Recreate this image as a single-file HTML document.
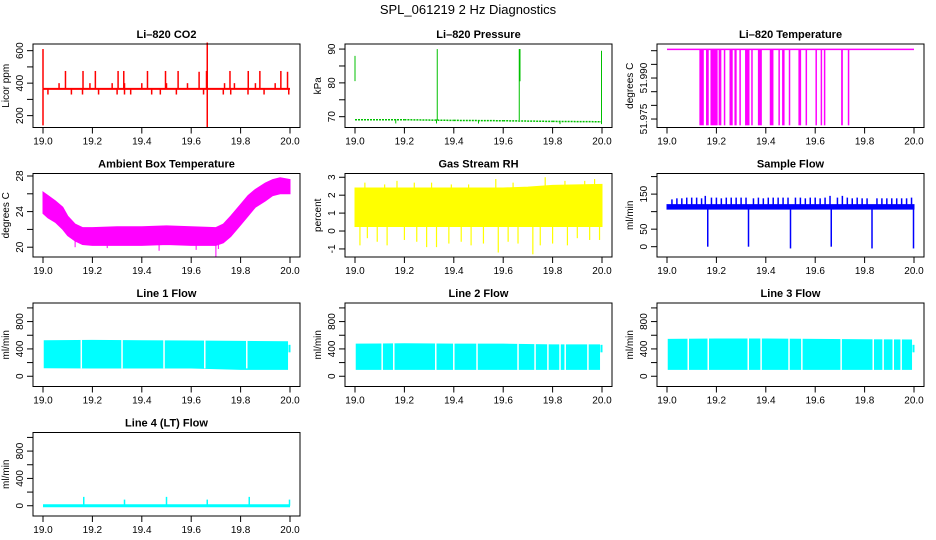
<!DOCTYPE html>
<html><head><meta charset="utf-8"><style>
html,body{margin:0;padding:0;background:#fff;}
svg{display:block;font-family:"Liberation Sans",sans-serif;}
</style></head><body>
<svg id="fig" width="936" height="540" viewBox="0 0 936 540">
<text x="468" y="14" text-anchor="middle" font-size="13">SPL_061219  2 Hz Diagnostics</text>
</svg>
<script>
// ---- data ----
const xTicks = [19.0, 19.2, 19.4, 19.6, 19.8, 20.0];
const xTickLabels = ["19.0","19.2","19.4","19.6","19.8","20.0"];

const co2Base = 365;
const co2SpikeT = [19.0,19.0,19.091,19.162,19.212,19.304,19.327,19.423,19.496,19.547,19.632,19.662,19.757,19.831,19.878,19.963,19.99,19.665,19.665,19.065,19.19,19.28,19.33,19.40,19.50,19.585,19.735,19.775,19.86,19.94,19.02,19.115,19.16,19.225,19.30,19.33,19.355,19.44,19.475,19.54,19.65,19.73,19.76,19.83,19.895,19.995];
const co2SpikeV = [610,140,475,475,475,475,475,475,475,475,470,475,475,475,475,475,470,650,130,400,400,400,400,400,400,400,400,400,400,400,330,330,330,330,330,330,330,330,330,330,330,330,330,330,330,330];

const presT = [19.0,19.2,19.4,19.6,19.8,20.0];
const presV = [69.1,69.1,68.9,68.8,68.6,68.5];
const presSpikeT = [19.0,19.333,19.665,19.667,19.668,19.998,19.165,19.33,19.5,19.83,19.998];
const presSpikeLo = [80.5,69,69,80.5,80.5,68.5,68.0,68.0,68.0,67.8,67.8];
const presSpikeHi = [88,90,90,90,90,89.5,69.2,69.2,69.0,68.8,68.8];

const ltTop = 52.0005, ltLow = 51.9727;
const ltDropStart = [19.131,19.158,19.176,19.209,19.230,19.253,19.273,19.293,19.316,19.341,19.368,19.416,19.451,19.466,19.493,19.532,19.561,19.601,19.622,19.635,19.705,19.732];
const ltDropEnd   = [19.149,19.169,19.205,19.220,19.232,19.266,19.282,19.295,19.334,19.347,19.384,19.431,19.453,19.476,19.495,19.543,19.563,19.603,19.624,19.637,19.712,19.734];

const ambT  = [19.0,19.02,19.05,19.08,19.1,19.13,19.16,19.2,19.3,19.4,19.5,19.6,19.7,19.73,19.76,19.8,19.83,19.86,19.9,19.93,19.96,20.0];
const ambLo = [23.8,23.3,22.8,22.0,21.3,20.7,20.3,20.2,20.2,20.2,20.3,20.2,20.2,20.5,21.2,22.5,23.5,24.5,25.2,25.8,26.0,26.0];
const ambHi = [26.2,25.8,25.2,24.5,23.5,22.6,22.2,22.2,22.3,22.3,22.4,22.3,22.2,22.6,23.5,24.8,25.8,26.5,27.2,27.6,27.8,27.6];
const ambDipT = [19.47,19.62,19.70,19.71,19.26,19.13];
const ambDipV = [19.6,19.7,18.9,19.8,19.9,20.0];

const rhT  = [19.0,19.2,19.4,19.6,19.7,19.8,20.0];
const rhLo = [0.25,0.25,0.25,0.25,0.25,0.25,0.25];
const rhHi = [2.4,2.4,2.4,2.4,2.45,2.55,2.6];
const rhSpikeT = [19.02,19.05,19.09,19.13,19.2,19.25,19.29,19.33,19.38,19.43,19.47,19.52,19.58,19.62,19.66,19.72,19.75,19.8,19.86,19.9,19.95,19.99,19.04,19.12,19.17,19.24,19.31,19.39,19.46,19.57,19.64,19.77,19.85,19.93,19.97];
const rhSpikeV = [-0.8,-0.4,-0.6,-0.8,-0.5,-0.6,-0.9,-0.9,-0.7,-0.6,-0.8,-0.7,-1.2,-0.6,-0.7,-1.3,-0.8,-0.7,-0.8,-0.4,-0.5,-0.5,2.7,2.6,2.8,2.7,2.7,2.6,2.6,2.9,2.7,3.0,2.8,2.8,2.9];

const sfT  = [19.0,20.0];
const sfLo = [107,107];
const sfHi = [120,120];
const sfSpikeT = [19.02,19.04,19.06,19.08,19.10,19.12,19.14,19.155,19.18,19.20,19.22,19.24,19.26,19.28,19.30,19.32,19.35,19.37,19.39,19.41,19.43,19.45,19.47,19.49,19.52,19.54,19.56,19.58,19.60,19.62,19.64,19.66,19.69,19.71,19.73,19.75,19.77,19.79,19.81,19.85,19.87,19.89,19.91,19.93,19.95,19.97,19.99];
const sfSpikeV = [135,138,138,140,140,140,138,145,140,140,138,140,140,140,140,140,138,140,138,140,140,140,140,140,140,140,138,140,140,138,140,145,140,145,140,138,140,138,138,138,138,138,138,138,138,138,140];
const sfDropT = [19.165,19.33,19.5,19.665,19.83,19.998];
const sfDropV = [0,0,-5,0,-5,-5];

const l1T  = [19.005,19.2,19.4,19.6,19.8,19.99];
const l1Lo = [125,120,120,120,100,100];
const l1Hi = [520,525,520,515,510,505];
const l1Gaps = [19.155,19.32,19.49,19.655,19.825];

const l2T  = [19.005,19.2,19.4,19.6,19.8,19.99];
const l2Lo = [100,100,100,100,100,100];
const l2Hi = [470,475,470,470,460,460];
const l2Gaps = [19.110,19.157,19.327,19.400,19.494,19.660,19.729,19.781,19.830,19.851,19.943];

const l3T  = [19.005,19.2,19.4,19.6,19.8,19.99];
const l3Lo = [100,100,100,100,100,100];
const l3Hi = [540,545,545,540,535,530];
const l3Gaps = [19.086,19.167,19.329,19.381,19.494,19.546,19.705,19.835,19.875,19.916,19.948];

const l4Base = 0;
const l4SpikeT = [19.165,19.33,19.5,19.665,19.835,19.998];
const l4SpikeV = [130,90,130,90,130,90];

// ---- layout ----
const svg = document.getElementById('fig');
const NS = 'http://www.w3.org/2000/svg';
const colX = [33, 345, 657];
const rowY = [44, 173.5, 303, 432.5];
const BW = 267, BH = 83.5;

function mk(tag, attrs, parent) {
  const e = document.createElementNS(NS, tag);
  for (const k in attrs) e.setAttribute(k, attrs[k]);
  (parent || svg).appendChild(e);
  return e;
}

function panel(name, title, ylab, col, row, ylim, yTicks, yLabels, dec) {
  const g = mk('g', {});
  
  
  const L = colX[col], T = rowY[row];
  const sx = t => L + 10 + (t - 19) * 247;
  const sy = v => T + BH - (v - ylim[0]) / (ylim[1] - ylim[0]) * BH;
  const plot = mk('g', {}, g);
  
  
  const t = mk('text', {x: L + BW / 2, y: T - 6, 'text-anchor': 'middle', 'font-size': 11, 'font-weight': 'bold'}, g);
  t.textContent = title;
  
  
  const box = mk('rect', {x: L, y: T, width: BW, height: BH, fill: 'none', stroke: '#000', 'stroke-width': 1}, g);
  
  
  const xa = mk('g', {}, g);
  
  
  mk('line', {x1: sx(xTicks[0]), x2: sx(xTicks[xTicks.length - 1]), y1: T + BH, y2: T + BH, stroke: '#000'}, xa);
  xTicks.forEach((v, i) => {
    mk('line', {x1: sx(v), x2: sx(v), y1: T + BH, y2: T + BH + 6, stroke: '#000'}, xa);
    const lb = mk('text', {x: sx(v), y: T + BH + 17, 'text-anchor': 'middle', 'font-size': 10}, xa);
    lb.textContent = xTickLabels[i];
    
    
  });
  const ya = mk('g', {}, g);
  
  
  mk('line', {x1: L, x2: L, y1: sy(yTicks[0]), y2: sy(yTicks[yTicks.length - 1]), stroke: '#000'}, ya);
  yTicks.forEach(v => mk('line', {x1: L - 6, x2: L, y1: sy(v), y2: sy(v), stroke: '#000'}, ya));
  yLabels.forEach(v => {
    const yy = sy(v), xx = L - 10;
    const lb = mk('text', {x: xx, y: yy, 'text-anchor': 'middle', 'font-size': 10, transform: `rotate(-90 ${xx} ${yy})`}, ya);
    lb.textContent = dec ? v.toFixed(dec) : String(v);
    
    
  });
  const yl = mk('text', {x: L - 24, y: T + BH / 2, 'text-anchor': 'middle', 'font-size': 10, transform: `rotate(-90 ${L - 24} ${T + BH / 2})`}, ya);
  yl.textContent = ylab;
  
  
  return {sx, sy, plot};
}

function vline(p, t, a, b, color, w) {
  mk('line', {x1: p.sx(t), x2: p.sx(t), y1: p.sy(a), y2: p.sy(b), stroke: color, 'stroke-width': w || 1}, p.plot);
}
function band(p, ts, lo, hi, color) {
  let d = '';
  ts.forEach((t, i) => d += (i ? 'L' : 'M') + p.sx(t) + ',' + p.sy(hi[i]));
  for (let i = ts.length - 1; i >= 0; i--) d += 'L' + p.sx(ts[i]) + ',' + p.sy(lo[i]);
  mk('path', {d: d + 'Z', fill: color, stroke: color}, p.plot);
}
function hline(p, t0, t1, v, color, w) {
  mk('line', {x1: p.sx(t0), x2: p.sx(t1), y1: p.sy(v), y2: p.sy(v), stroke: color, 'stroke-width': w || 1}, p.plot);
}

let p = panel('co2', 'Li\u2013820 CO2', 'Licor ppm', 0, 0, [127, 641], [200,300,400,500,600], [200,400,600]);
hline(p, 19.0, 20.0, co2Base, '#ff0000', 2);
co2SpikeT.forEach((t, i) => vline(p, t, co2Base, co2SpikeV[i], '#ff0000', 1.5));

p = panel('pressure', 'Li\u2013820 Pressure', 'kPa', 1, 0, [66.8, 91.5], [70,75,80,85,90], [70,80,90]);
for (let i = 1; i < presT.length; i++)
  mk('line', {x1: p.sx(presT[i-1]), x2: p.sx(presT[i]), y1: p.sy(presV[i-1]), y2: p.sy(presV[i]), stroke: '#00c000', 'stroke-width': 1.5, 'stroke-dasharray': '2,1'}, p.plot);
presSpikeT.forEach((t, i) => vline(p, t, presSpikeLo[i], presSpikeHi[i], '#00c000', 1));

p = panel('licor-temp', 'Li\u2013820 Temperature', 'degrees C', 2, 0, [51.9719, 52.00245], [51.975,51.980,51.985,51.990,51.995,52.000], [51.975, 51.990], 3);
hline(p, 19.0, 20.0, ltTop, '#ff00ff', 1.5);
ltDropStart.forEach((t, i) => {
  const x0 = p.sx(t), x1 = Math.max(p.sx(ltDropEnd[i]), x0 + 1.5);
  mk('rect', {x: x0, y: p.sy(ltTop), width: x1 - x0, height: p.sy(ltLow) - p.sy(ltTop), fill: '#ff00ff'}, p.plot);
});

p = panel('ambient-temp', 'Ambient Box Temperature', 'degrees C', 0, 1, [18.9, 28.28], [20,22,24,26,28], [20,24,28]);
band(p, ambT, ambLo, ambHi, '#ff00ff');
ambDipT.forEach((t, i) => vline(p, t, 21, ambDipV[i], '#ff00ff', 1));

p = panel('gas-rh', 'Gas Stream RH', 'percent', 1, 1, [-1.45, 3.21], [-1,0,1,2,3], [-1,0,1,2,3]);
band(p, rhT, rhLo, rhHi, '#ffff00');
rhSpikeT.forEach((t, i) => vline(p, t, 1.2, rhSpikeV[i], '#ffff00', 1.2));

p = panel('sample-flow', 'Sample Flow', 'ml/min', 2, 1, [-29.4, 208.8], [0,50,100,150,200], [0,50,150]);
band(p, sfT, sfLo, sfHi, '#0000ff');
sfSpikeT.forEach((t, i) => vline(p, t, 115, sfSpikeV[i], '#0000ff', 1.5));
sfDropT.forEach((t, i) => vline(p, t, 110, sfDropV[i], '#0000ff', 1.5));

const lf = [[1, 'line1-flow', 'Line 1 Flow', 0, 2, l1T, l1Lo, l1Hi, l1Gaps],
            [2, 'line2-flow', 'Line 2 Flow', 1, 2, l2T, l2Lo, l2Hi, l2Gaps],
            [3, 'line3-flow', 'Line 3 Flow', 2, 2, l3T, l3Lo, l3Hi, l3Gaps]];
lf.forEach(c => {
  const q = panel(c[1], c[2], 'ml/min', c[3], c[4], [-150, 1072], [0,200,400,600,800,1000], [0,400,800]);
  band(q, c[5], c[6], c[7], '#00ffff');
  c[8].forEach(t => vline(q, t, c[6][0] - 10, c[7][1] + 10, '#ffffff', 1.5));
  vline(q, 19.998, 350, 460, '#00ffff', 2);
});

p = panel('line4-flow', 'Line 4 (LT) Flow', 'ml/min', 0, 3, [-150, 1072], [0,200,400,600,800,1000], [0,400,800]);
hline(p, 19.0, 20.0, l4Base, '#00ffff', 3);
l4SpikeT.forEach((t, i) => vline(p, t, l4Base, l4SpikeV[i], '#00ffff', 1.5));
</script>
</body></html>
